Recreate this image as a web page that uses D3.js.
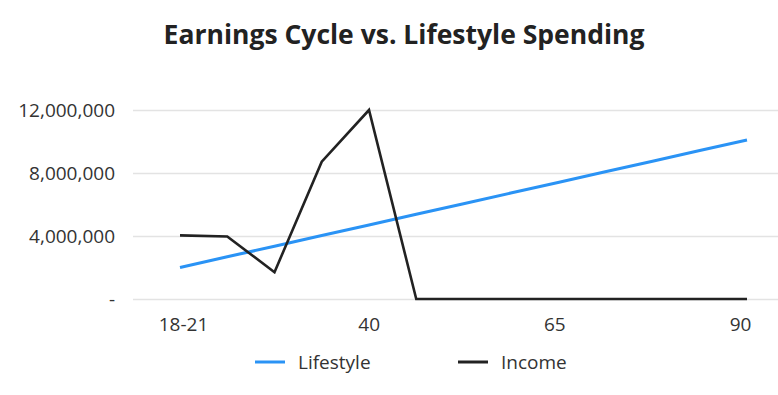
<!DOCTYPE html>
<html><head><meta charset="utf-8">
<script src="https://cdn.jsdelivr.net/npm/d3@7"></script>
<style>body{margin:0;background:#fff;font-family:"Open Sans",sans-serif;}</style>
</head><body><svg id="c" width="778" height="395"></svg>
<script>
const categories = ["18-21","25","30","35","40","45","50","55","65","70","75","80","90"];
const shownLabels = ["18-21","40","65","90"];
const lifestyle = [2000000,2680000,3350000,4030000,4700000,5380000,6050000,6730000,7400000,8080000,8750000,9430000,10100000];
const income = [4040000,3970000,1700000,8720000,12000000,0,0,0,0,0,0,0,0];
const yTicks = [0,4000000,8000000,12000000];
const seriesNames = ["Lifestyle","Income"];
const colors = ["#2a93f5","#222222"];

const svg = d3.select("#c");
const x = d3.scalePoint().domain(categories).range([180,747]);
const xl = d3.scalePoint().domain(shownLabels).range([183,740]);
const y = d3.scaleLinear().domain([0,12000000]).range([299,110]);

svg.append("text").attr("x",404).attr("y",44).attr("text-anchor","middle")
  .attr("font-size",26.5).attr("font-weight",700).attr("fill","#222").text("Earnings Cycle vs. Lifestyle Spending");

const fmt = d => d===0 ? "-" : d3.format(",")(d);
const ya = svg.append("g").attr("transform","translate(133,0)")
  .call(d3.axisLeft(y).tickValues(yTicks).tickSize(-645).tickFormat(fmt).tickPadding(18));
ya.select(".domain").remove();
ya.selectAll(".tick line").attr("stroke","#e3e3e3").attr("stroke-width",1.5);
ya.selectAll(".tick text").attr("font-size",19).attr("fill","#333").attr("font-family","Open Sans");

const xa = svg.append("g").attr("transform","translate(0,299)")
  .call(d3.axisBottom(xl).tickSize(0).tickPadding(19));
xa.select(".domain").remove();
xa.selectAll(".tick text").attr("font-size",19).attr("fill","#333").attr("font-family","Open Sans");

const line = d3.line().x((d,i)=>x(categories[i])).y(d=>y(d));
svg.append("path").datum(lifestyle).attr("d",line).attr("fill","none").attr("stroke",colors[0]).attr("stroke-width",3);
svg.append("path").datum(income).attr("d",line).attr("fill","none").attr("stroke",colors[1]).attr("stroke-width",2.6);

const lg = svg.append("g");
const lx = [255,458];
seriesNames.forEach((n,i)=>{
  lg.append("line").attr("x1",lx[i]).attr("x2",lx[i]+30).attr("y1",362).attr("y2",362).attr("stroke",colors[i]).attr("stroke-width",3);
  lg.append("text").attr("x",lx[i]+43).attr("y",362).attr("dy","0.35em").attr("font-size",19).attr("fill","#333").attr("font-family","Open Sans").text(n);
});
</script></body></html>
